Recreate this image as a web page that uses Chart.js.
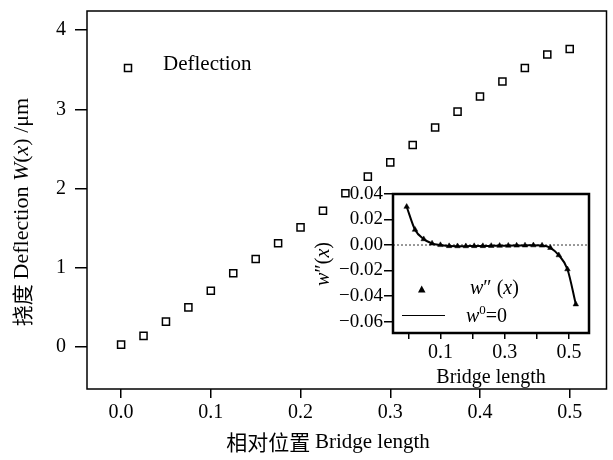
<!DOCTYPE html>
<html>
<head>
<meta charset="utf-8">
<script src="https://cdn.jsdelivr.net/npm/chart.js@4.4.1/dist/chart.umd.min.js"></script>
<style>
  html, body { margin: 0; padding: 0; background: #fff; }
  #wrap { position: relative; width: 613px; height: 460px; }
  #mainChart { position: absolute; left: 0; top: 0; }
  #insetChart { position: absolute; left: 310px; top: 180px; }
</style>
</head>
<body>
<div id="wrap">
  <canvas id="mainChart" width="613" height="460"></canvas>
  <canvas id="insetChart" width="290" height="210"></canvas>
</div>
<script>
// datos
const posicion = [0, 0.025, 0.05, 0.075, 0.1, 0.125, 0.15, 0.175, 0.2, 0.225, 0.25,
                  0.275, 0.3, 0.325, 0.35, 0.375, 0.4, 0.425, 0.45, 0.475, 0.5];
const deflexion = [0.03, 0.14, 0.32, 0.50, 0.71, 0.93, 1.11, 1.31, 1.51, 1.72, 1.94,
                   2.15, 2.33, 2.55, 2.77, 2.97, 3.16, 3.35, 3.52, 3.69, 3.76];
const xTicks = [0, 0.1, 0.2, 0.3, 0.4, 0.5];
const yTicks = [0, 1, 2, 3, 4];

// inset: segunda derivada
const insetX = [-0.005, 0.021, 0.048, 0.074, 0.100, 0.127, 0.153, 0.179, 0.205, 0.232, 0.258,
                0.284, 0.311, 0.337, 0.363, 0.389, 0.416, 0.442, 0.468, 0.495, 0.521];
const insetY = [0.030, 0.012, 0.0046, 0.0012, 0.0000, -0.0008, -0.0009, -0.0009, -0.0008, -0.0008, -0.0007,
                -0.0006, -0.0005, -0.0004, -0.0003, -0.0002, -0.0004, -0.0022, -0.0080, -0.0190, -0.0465];
const insetXTicks = [0, 0.1, 0.2, 0.3, 0.4, 0.5];
const insetXLabeled = [0.1, 0.3, 0.5];
const insetYTicks = [-0.06, -0.04, -0.02, 0, 0.02, 0.04];
const refX = [-0.0475, 0.562];
const refY = [0, 0];

const SERIF = '"Liberation Serif", "DejaVu Serif", serif';
const CJK = '"Noto Sans CJK SC", sans-serif';

function pts(xs, ys) {
    return xs.map(function(x, i) { return {x: x, y: ys[i]}; });
}

// quita el relleno extra que Chart.js pone por las etiquetas de los extremos
function sinPadding(s) {
    s.paddingTop = 0; s.paddingBottom = 0; s.paddingLeft = 0; s.paddingRight = 0;
}

// texto con varias fuentes (italica, etc)
function drawRich(ctx, parts, x, y, align, angle) {
    ctx.save();
    ctx.translate(x, y);
    ctx.rotate(angle || 0);
    ctx.textBaseline = 'middle';
    ctx.textAlign = 'left';
    ctx.fillStyle = '#000';
    var total = 0;
    parts.forEach(function(p) { ctx.font = p.f; p.w = ctx.measureText(p.t).width; total += p.w; });
    var cx = align === 'center' ? -total / 2 : 0;
    parts.forEach(function(p) { ctx.font = p.f; ctx.fillText(p.t, cx, p.dy || 0); cx += p.w; });
    ctx.restore();
}

// marco completo alrededor del area
const framePlugin = {
    id: 'frame',
    afterDatasetsDraw: function(chart, args, opts) {
        var a = chart.chartArea, ctx = chart.ctx;
        ctx.save();
        ctx.strokeStyle = '#000';
        ctx.lineWidth = opts.width || 1.5;
        ctx.strokeRect(a.left, a.top, a.right - a.left, a.bottom - a.top);
        ctx.restore();
    }
};

// titulos y leyendas
const textPlugin = {
    id: 'texts',
    afterDraw: function(chart) {
        var ctx = chart.ctx;
        var n = '22px ' + SERIF, it = 'italic 22px ' + SERIF, cj = '21px ' + CJK;
        drawRich(ctx, [
            {t: '挠度 ', f: cj}, {t: 'Deflection ', f: n}, {t: 'W', f: it},
            {t: '(', f: n}, {t: 'x', f: it}, {t: ') /μm', f: n}
        ], 22, 212, 'center', -Math.PI / 2);
        drawRich(ctx, [{t: '相对位置 ', f: cj}, {t: 'Bridge length', f: '21px ' + SERIF}], 328, 442, 'center');

        // leyenda principal
        ctx.save();
        ctx.strokeStyle = '#000';
        ctx.lineWidth = 1.5;
        ctx.strokeRect(124.5, 64.5, 7, 7);
        ctx.restore();
        drawRich(ctx, [{t: 'Deflection', f: '21px ' + SERIF}], 163, 64, 'left');

        // inset: titulo eje y y leyenda
        var n2 = '20px ' + SERIF, it2 = 'italic 20px ' + SERIF;
        drawRich(ctx, [
            {t: 'w', f: it2}, {t: '″', f: n2}, {t: '(', f: n2}, {t: 'x', f: it2}, {t: ')', f: n2}
        ], 324, 264, 'center', -Math.PI / 2);

        ctx.save();
        ctx.fillStyle = '#000';
        ctx.beginPath();
        ctx.moveTo(421.7, 285.5);
        ctx.lineTo(425.5, 292.5);
        ctx.lineTo(418, 292.5);
        ctx.closePath();
        ctx.fill();
        ctx.strokeStyle = '#000';
        ctx.lineWidth = 1;
        ctx.beginPath();
        ctx.moveTo(402, 315.5);
        ctx.lineTo(445, 315.5);
        ctx.stroke();
        ctx.restore();
        drawRich(ctx, [
            {t: 'w', f: it2}, {t: '″ (', f: n2}, {t: 'x', f: it2}, {t: ')', f: n2}
        ], 470, 289, 'left');
        drawRich(ctx, [
            {t: 'w', f: it2}, {t: '0', f: '13px ' + SERIF, dy: -6}, {t: '=0', f: n2}
        ], 466, 317, 'left');
    }
};

var mainCtx = document.getElementById('mainChart').getContext('2d');
var mainChart = new Chart(mainCtx, {
    type: 'scatter',
    data: {
        datasets: [{
            label: 'Deflection',
            data: pts(posicion, deflexion),
            pointStyle: 'rect',
            pointRadius: 5,
            pointHoverRadius: 5,
            borderColor: '#000',
            backgroundColor: 'rgba(0,0,0,0)',
            pointBorderWidth: 1.5
        }]
    },
    options: {
        responsive: false,
        animation: false,
        events: [],
        layout: { padding: { top: 11, right: 6, left: 0, bottom: 0 } },
        plugins: { legend: { display: false }, tooltip: { enabled: false }, frame: { width: 1.5 } },
        scales: {
            x: {
                type: 'linear', min: -0.038, max: 0.541,
                afterBuildTicks: function(s) { s.ticks = xTicks.map(function(v) { return {value: v}; }); },
                afterFit: function(s) { s.height = 71; sinPadding(s); },
                border: { display: false },
                grid: { drawOnChartArea: false, drawTicks: true, tickLength: 9, color: '#000', lineWidth: 1.5 },
                ticks: {
                    color: '#000', padding: 3, maxRotation: 0,
                    font: { family: SERIF, size: 20 },
                    callback: function(v) { return Number(v).toFixed(1); }
                }
            },
            y: {
                type: 'linear', min: -0.53, max: 4.24,
                afterBuildTicks: function(s) { s.ticks = yTicks.map(function(v) { return {value: v}; }); },
                afterFit: function(s) { s.width = 87; sinPadding(s); },
                border: { display: false },
                grid: { drawOnChartArea: false, drawTicks: true, tickLength: 12, color: '#000', lineWidth: 1.5 },
                ticks: {
                    color: '#000', padding: 9,
                    font: { family: SERIF, size: 20 },
                    callback: function(v) { return String(v); }
                }
            }
        }
    },
    plugins: [framePlugin, textPlugin]
});

var insetCtx = document.getElementById('insetChart').getContext('2d');
var insetChart = new Chart(insetCtx, {
    type: 'scatter',
    data: {
        datasets: [{
            label: "w''(x)",
            data: pts(insetX, insetY),
            showLine: true,
            cubicInterpolationMode: 'monotone',
            borderColor: '#000',
            borderWidth: 2,
            pointStyle: 'triangle',
            pointRadius: 3.2,
            pointHoverRadius: 3.2,
            pointBackgroundColor: '#000',
            pointBorderColor: '#000',
            pointBorderWidth: 0.5
        }, {
            label: 'w0=0',
            data: pts(refX, refY),
            showLine: true,
            borderColor: '#333',
            borderWidth: 1,
            borderDash: [2, 2],
            pointRadius: 0
        }]
    },
    options: {
        responsive: false,
        animation: false,
        events: [],
        layout: { padding: { top: 14, right: 11, left: 0, bottom: 0 } },
        plugins: { legend: { display: false }, tooltip: { enabled: false }, frame: { width: 2.5 } },
        scales: {
            x: {
                type: 'linear', min: -0.0475, max: 0.562,
                afterBuildTicks: function(s) { s.ticks = insetXTicks.map(function(v) { return {value: v}; }); },
                afterFit: function(s) { s.height = 57; sinPadding(s); },
                border: { display: false },
                grid: { drawOnChartArea: false, drawTicks: true, tickLength: 6, color: '#000', lineWidth: 1.5 },
                ticks: {
                    color: '#000', padding: 2, maxRotation: 0, autoSkip: false,
                    font: { family: SERIF, size: 20 },
                    callback: function(v) {
                        var ok = insetXLabeled.some(function(t) { return Math.abs(t - v) < 1e-9; });
                        return ok ? Number(v).toFixed(1) : '';
                    }
                },
                title: {
                    display: true, text: 'Bridge length', color: '#000',
                    font: { family: SERIF, size: 20 }, padding: { top: -4, bottom: 0 }
                }
            },
            y: {
                type: 'linear', min: -0.069, max: 0.04,
                afterBuildTicks: function(s) { s.ticks = insetYTicks.map(function(v) { return {value: v}; }); },
                afterFit: function(s) { s.width = 83; sinPadding(s); },
                border: { display: false },
                grid: { drawOnChartArea: false, drawTicks: true, tickLength: 9, color: '#000', lineWidth: 1.5 },
                ticks: {
                    color: '#000', padding: 1, autoSkip: false,
                    font: { family: SERIF, size: 19 },
                    callback: function(v) {
                        var s = Math.abs(v).toFixed(2);
                        return v < -1e-9 ? '\u2212' + s : s;
                    }
                }
            }
        }
    },
    plugins: [framePlugin]
});
</script>
</body>
</html>
